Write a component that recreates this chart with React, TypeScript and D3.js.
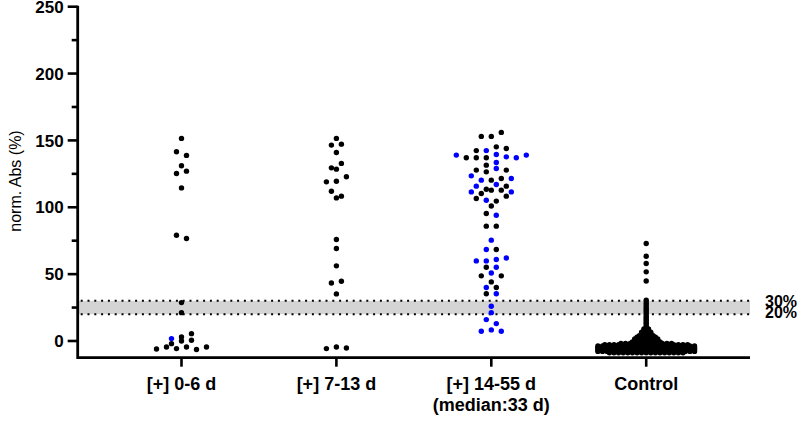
import React from 'react';
import * as d3 from 'd3';

// ---------- data ----------
const categories = ['[+] 0-6 d', '[+] 7-13 d', '[+] 14-55 d', 'Control'];
const categorySubLabels = ['', '', '(median:33 d)', ''];
const yTicksMajor = [0, 50, 100, 150, 200, 250];
const yTicksMinor = [25, 75, 125, 175, 225];
const bandLow = 20;
const bandHigh = 30;
const bandLabels = ['30%', '20%'];

// [value, isBlue]
const group1: [number, number][] = [
  [151.5, 0], [141.5, 0], [138.8, 0], [131, 0], [125.3, 0], [127, 0], [114.5, 0],
  [79.1, 0], [76.6, 0], [28.7, 0], [21.2, 0],
  [-2, 0], [1.8, 1], [0, 0], [3, 0], [5.5, 0], [0.5, 0],
  [-6, 0], [-4.5, 0], [-5.7, 0], [-4.5, 0], [-6.4, 0], [-4.5, 0],
];

const group2: [number, number][] = [
  [151.5, 0], [146.5, 0], [147.2, 0], [141, 0], [129.5, 0], [132.8, 0], [128.5, 0],
  [119, 0], [119.5, 0], [122.8, 0], [112, 0], [107, 0], [108.3, 0],
  [75.9, 0], [69.2, 0], [56.2, 0], [43.4, 0], [44.7, 0], [35.2, 0],
  [-5.7, 0], [-4.5, 0], [-5.2, 0],
];

const group3: [number, number][] = [
  [153, 0], [153, 0], [156, 0],
  [142.4, 0], [142.4, 1], [145.2, 0], [144, 0],
  [139, 1], [137, 0], [137, 0], [137, 0], [139.5, 1], [137.7, 1], [137, 1], [139, 1],
  [131.5, 0], [133.5, 1],
  [127.8, 0], [126.5, 0], [129, 1], [127.8, 0],
  [123.5, 1], [120.3, 1], [120.3, 0], [121.5, 0], [121.5, 1],
  [115.8, 1], [113.5, 0], [117, 1], [115.8, 0],
  [111.5, 1], [110.3, 0], [112.8, 0], [112.8, 0], [111.5, 1],
  [106.6, 0], [105.3, 1], [104.6, 0], [108.3, 0],
  [101, 0],
  [95.3, 0], [94, 1],
  [85.9, 0], [85.9, 0],
  [75.4, 1],
  [68.4, 1], [68.4, 0],
  [59.9, 1], [59.9, 1], [60.9, 1], [62.1, 1],
  [55.2, 0], [55.2, 1],
  [48.7, 0], [50.9, 1], [48.7, 0],
  [44.2, 0],
  [40, 1], [40, 0],
  [35.3, 0], [35.3, 1],
  [26, 1],
  [21.2, 1],
  [16, 1], [13, 1],
  [7.3, 1], [8.3, 1], [7.3, 1],
];

// Control: sparse tail values, then dense part as [value, count]
const controlValues: number[] = [
  72.9, 63.4, 57.9, 51.7, 44.9, 30.5, 28.6, 27.1, 25.4, 24.0, 22.6, 21.1, 19.7,
  18.2, 16.8, 15.5, 14.1, 12.8, 11.4, 10.2,
];
const controlCounts: [number, number][] = [
  [9, 2], [7.8, 2], [6.5, 3], [5.2, 3], [4, 4], [2.8, 5], [1.6, 6], [0.4, 6],
  [-0.8, 7], [-1.8, 12], [-2.8, 19], [-3.8, 22], [-4.8, 22], [-5.8, 22], [-6.8, 22],
  [-7.8, 22], [-8.8, 17],
];

// ---------- layout ----------
const W = 798;
const H = 424;
const X0 = 77.7;
const X1 = 750;
const YTOP = 6.7;
const YBOT = 357.7;
const FONT = "'Liberation Sans', Arial, Helvetica, sans-serif";
const R = 2.7;

const y = d3.scaleLinear().domain([-12.5, 250]).range([YBOT, YTOP]);
const x = d3.scalePoint<string>().domain(categories).range([X0, X1]).padding(0.67);

function layoutRows(vals: number[], binPx: number, step: number): number[] {
  const idx = vals.map((_, i) => i).sort((a, b) => vals[b] - vals[a] || a - b);
  const rows: number[][] = [];
  let cur: number[] = [];
  let startY = 0;
  for (const i of idx) {
    const yy = y(vals[i]);
    if (cur.length && yy - startY > binPx) {
      rows.push(cur);
      cur = [];
    }
    if (!cur.length) startY = yy;
    cur.push(i);
  }
  if (cur.length) rows.push(cur);
  const off = new Array(vals.length).fill(0);
  for (const row of rows) {
    row.sort((a, b) => a - b);
    const n = row.length;
    row.forEach((i, k) => {
      off[i] = (k - (n - 1) / 2) * step;
    });
  }
  return off;
}

type Dot = { cx: number; cy: number; fill: string };

function makeDots(cat: string, pts: [number, number][], binPx: number, step: number): Dot[] {
  const vals = pts.map((p) => p[0]);
  const off = layoutRows(vals, binPx, step);
  const cx0 = x(cat) as number;
  return pts.map((p, i) => ({
    cx: cx0 + off[i],
    cy: y(p[0]),
    fill: p[1] ? '#0000ff' : '#000000',
  }));
}

const controlPts: [number, number][] = [
  ...controlValues.map((v) => [v, 0] as [number, number]),
  ...controlCounts.flatMap(([v, n]) => d3.range(n).map(() => [v, 0] as [number, number])),
];

export default function App() {
  const dots: Dot[] = [
    ...makeDots(categories[0], group1, 5.1, 10),
    ...makeDots(categories[1], group2, 5.1, 10),
    ...makeDots(categories[2], group3, 5.1, 10),
    ...makeDots(categories[3], controlPts, 1.0, 4.6),
  ];

  return (
    <svg
      width={W}
      height={H}
      style={{ position: 'absolute', left: 0, top: 0, background: '#fff' }}
      fontFamily={FONT}
    >
      {/* threshold band */}
      <rect x={X0} y={y(bandHigh)} width={X1 - X0} height={y(bandLow) - y(bandHigh)} fill="#d4d4d4" />
      {[bandHigh, bandLow].map((v) => (
        <line
          key={v}
          x1={X0 + 3}
          x2={X1}
          y1={y(v)}
          y2={y(v)}
          stroke="#000"
          strokeWidth={2}
          strokeDasharray="2 4.8"
        />
      ))}
      <text x={765} y={y(bandHigh) + 6.2} fontSize={16} fontWeight="bold">{bandLabels[0]}</text>
      <text x={765} y={y(bandLow) + 4.2} fontSize={16} fontWeight="bold">{bandLabels[1]}</text>

      {/* dots */}
      {dots.map((d, i) => (
        <circle key={i} cx={d.cx} cy={d.cy} r={R} fill={d.fill} />
      ))}

      {/* axes */}
      <path
        d={`M${X0},${YTOP - 1} V${YBOT} H${X1}`}
        fill="none"
        stroke="#000"
        strokeWidth={2.8}
      />
      {yTicksMajor.map((t) => (
        <g key={'M' + t}>
          <line x1={X0 - 10} x2={X0} y1={y(t)} y2={y(t)} stroke="#000" strokeWidth={2.6} />
          <text
            x={X0 - 14}
            y={y(t)}
            dy="0.36em"
            textAnchor="end"
            fontSize={17}
            fontWeight="bold"
          >
            {t}
          </text>
        </g>
      ))}
      {yTicksMinor.map((t) => (
        <line key={'m' + t} x1={X0 - 6} x2={X0} y1={y(t)} y2={y(t)} stroke="#000" strokeWidth={2.6} />
      ))}
      {categories.map((c, i) => (
        <g key={c}>
          <line
            x1={x(c) as number}
            x2={x(c) as number}
            y1={YBOT}
            y2={YBOT + 9}
            stroke="#000"
            strokeWidth={2.6}
          />
          <text x={x(c) as number} y={YBOT + 32.5} textAnchor="middle" fontSize={18} fontWeight="bold">
            {c}
          </text>
          {categorySubLabels[i] && (
            <text x={x(c) as number} y={YBOT + 53.5} textAnchor="middle" fontSize={18} fontWeight="bold">
              {categorySubLabels[i]}
            </text>
          )}
        </g>
      ))}
      <text
        transform={`translate(21,${181}) rotate(-90)`}
        textAnchor="middle"
        fontSize={16}
      >
        norm. Abs (%)
      </text>
    </svg>
  );
}
